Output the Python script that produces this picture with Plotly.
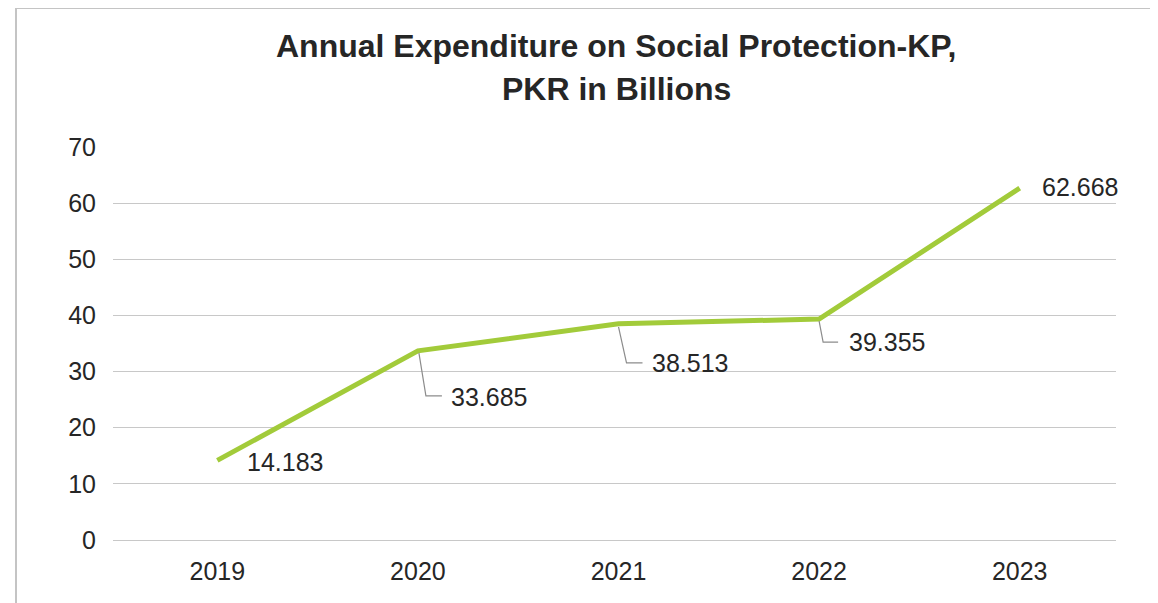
import plotly.graph_objects as go

years = ["2019", "2020", "2021", "2022", "2023"]
values = [14.183, 33.685, 38.513, 39.355, 62.668]
labels = ["14.183", "33.685", "38.513", "39.355", "62.668"]
title_lines = ["Annual Expenditure on Social Protection-KP,", "PKR in Billions"]

# label placement (pixel offsets relative to point) and leader paths
label_shift = [(28, -2), (31, -46), (31, -39), (28, -23), (20, 1)]
leader_paths = [None, "M1,-2 L8,-45 L24,-45", "M0,-3 L8,-39 L24,-39", "M0,-2 L4,-23 L19,-23", None]

GREEN = "#A2CB3A"
TEXT = "#262626"
FONT = "Liberation Sans, Arial, sans-serif"

# page geometry (body has an 8px default margin)
OFF = 8
PAGE_W, PAGE_H = 1158, 603
W, H = PAGE_W - OFF, PAGE_H - OFF
plot_left, plot_right, plot_top, plot_bottom = 113, 1116, 147, 540
ml, mr = plot_left - OFF, PAGE_W - plot_right
mt, mb = plot_top - OFF, PAGE_H - plot_bottom
pw, ph = plot_right - plot_left, plot_bottom - plot_top


def px_x(X):
    return (X - plot_left) / pw


def px_y(Y):
    return (plot_bottom - Y) / ph


fig = go.Figure()
fig.add_trace(go.Scatter(x=years, y=values, mode="lines",
                         line=dict(color=GREEN, width=5), hoverinfo="skip"))

annotations = []
shapes = []
for i, (yr, v, lab) in enumerate(zip(years, values, labels)):
    dx, dy = label_shift[i]
    annotations.append(dict(x=i, y=v, xref="x", yref="y", text=lab, showarrow=False,
                            xanchor="left", yanchor="middle", xshift=dx, yshift=dy,
                            font=dict(family=FONT, size=25, color=TEXT)))
    if leader_paths[i]:
        shapes.append(dict(type="path", xref="x", yref="y", xsizemode="pixel", ysizemode="pixel",
                           xanchor=i, yanchor=v, path=leader_paths[i],
                           line=dict(color="#8C8C8C", width=1.2)))

# title lines
for txt, yc in zip(title_lines, [46, 89]):
    annotations.append(dict(x=px_x(616), y=px_y(yc), xref="paper", yref="paper",
                            text="<b>" + txt + "</b>", showarrow=False,
                            xanchor="center", yanchor="middle",
                            font=dict(family=FONT, size=32, color=TEXT)))

# outer chart border
shapes.append(dict(type="rect", xref="paper", yref="paper",
                   x0=px_x(16), x1=px_x(PAGE_W + 10),
                   y0=px_y(PAGE_H + 10), y1=px_y(8),
                   line=dict(color="#C4C4C4", width=2), layer="below"))

fig.update_layout(
    width=W, height=H,
    margin=dict(l=ml, r=mr, t=mt, b=mb),
    paper_bgcolor="white", plot_bgcolor="white",
    showlegend=False,
    annotations=annotations,
    shapes=shapes,
    font=dict(family=FONT, color=TEXT),
)
fig.update_xaxes(type="category", range=[-0.52, 4.48], showgrid=False, showline=False,
                 zeroline=False, ticks="", tickfont=dict(size=25, color=TEXT, family=FONT),
                 ticklabelstandoff=14)
fig.update_yaxes(range=[0, 70], dtick=10, showgrid=True, gridcolor="#C8C8C8", gridwidth=1.3,
                 zeroline=True, zerolinecolor="#C8C8C8", zerolinewidth=1.3,
                 showline=False, ticks="", tickfont=dict(size=25, color=TEXT, family=FONT),
                 ticklabelstandoff=16)

fig.write_html("out.html")
